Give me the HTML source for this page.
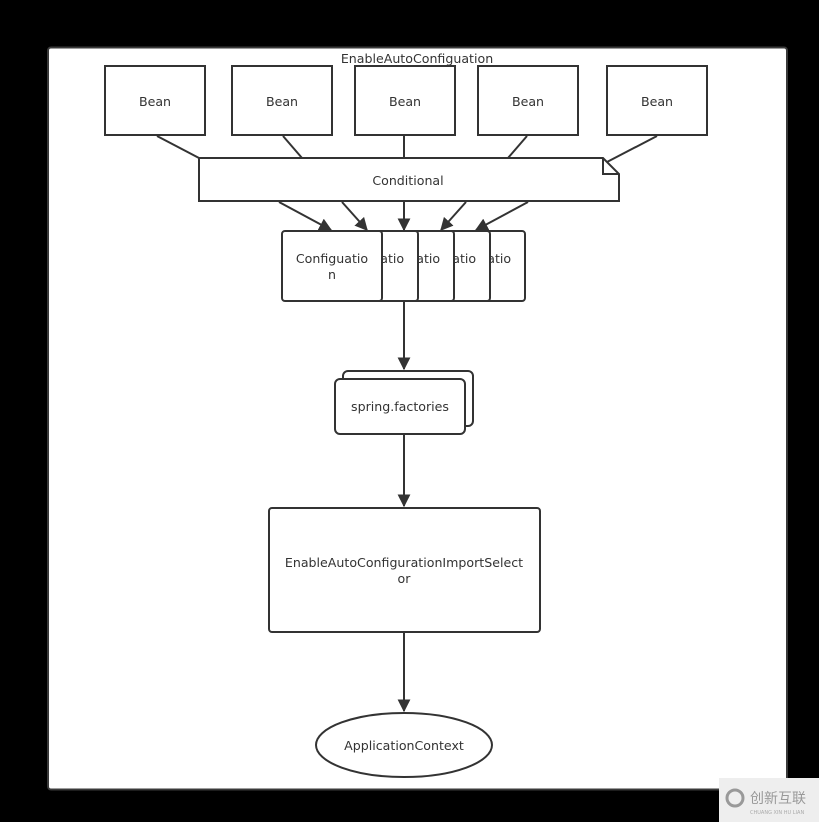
<!DOCTYPE html>
<html><head><meta charset="utf-8"><style>
html,body{margin:0;padding:0;background:#000;width:819px;height:822px;overflow:hidden}
svg{display:block}
text{font-family:"DejaVu Sans","Liberation Sans",sans-serif;font-size:12.6px;fill:#333}
</style></head><body>
<svg width="819" height="822" viewBox="0 0 819 822" xmlns="http://www.w3.org/2000/svg">
<defs><marker id="a" viewBox="0 0 10 10" refX="9" refY="5" markerWidth="6.5" markerHeight="6.5" orient="auto"><path d="M0,0 L10,5 L0,10 z" fill="#333"/></marker></defs>
<rect x="48" y="47.5" width="739" height="742" rx="3" fill="#fff" stroke="#3a3a3a" stroke-width="2"/>
<text x="417" y="63" text-anchor="middle">EnableAutoConfiguation</text>
<g fill="#fff" stroke="#333" stroke-width="2">
<rect x="105" y="66" width="100" height="69"/>
<rect x="232" y="66" width="100" height="69"/>
<rect x="355" y="66" width="100" height="69"/>
<rect x="478" y="66" width="100" height="69"/>
<rect x="607" y="66" width="100" height="69"/>
</g>
<g text-anchor="middle"><text x="155" y="106">Bean</text><text x="282" y="106">Bean</text><text x="405" y="106">Bean</text><text x="528" y="106">Bean</text><text x="657" y="106">Bean</text></g>
<g stroke="#333" stroke-width="2">
<line x1="157" y1="136" x2="199" y2="158"/><line x1="283" y1="136" x2="302" y2="158"/><line x1="404" y1="136" x2="404" y2="158"/><line x1="527" y1="136" x2="508" y2="158"/><line x1="657" y1="136" x2="607" y2="162"/>
</g>
<path d="M199,158 H603 L619,174 V201 H199 Z" fill="#fff" stroke="#333" stroke-width="2"/>
<path d="M603,158 V174 H619" fill="none" stroke="#333" stroke-width="2"/>
<text x="408" y="185" text-anchor="middle">Conditional</text>
<g stroke="#333" stroke-width="2" marker-end="url(#a)">
<line x1="279" y1="202" x2="331" y2="230"/><line x1="342" y1="202" x2="367" y2="230"/><line x1="404" y1="202" x2="404" y2="230"/><line x1="466" y1="202" x2="441" y2="230"/><line x1="528" y1="202" x2="476" y2="230"/>
</g>
<g fill="#fff" stroke="#333" stroke-width="2">
<rect x="425" y="231" width="100" height="70" rx="3"/>
<rect x="390" y="231" width="100" height="70" rx="3"/>
<rect x="354" y="231" width="100" height="70" rx="3"/>
<rect x="318" y="231" width="100" height="70" rx="3"/>
</g>
<clipPath id="c1"><rect x="491" y="231" width="34" height="70"/></clipPath>
<clipPath id="c2"><rect x="455" y="231" width="35" height="70"/></clipPath>
<clipPath id="c3"><rect x="419" y="231" width="35" height="70"/></clipPath>
<clipPath id="c4"><rect x="383" y="231" width="35" height="70"/></clipPath>
<text x="475" y="263" text-anchor="middle" clip-path="url(#c1)">Configuatio</text>
<text x="440" y="263" text-anchor="middle" clip-path="url(#c2)">Configuatio</text>
<text x="404" y="263" text-anchor="middle" clip-path="url(#c3)">Configuatio</text>
<text x="368" y="263" text-anchor="middle" clip-path="url(#c4)">Configuatio</text>
<rect x="282" y="231" width="100" height="70" rx="3" fill="#fff" stroke="#333" stroke-width="2"/>
<text x="332" y="263" text-anchor="middle">Configuatio</text>
<text x="332" y="279" text-anchor="middle">n</text>
<g stroke="#333" stroke-width="2" marker-end="url(#a)">
<line x1="404" y1="302" x2="404" y2="369"/>
<line x1="404" y1="435" x2="404" y2="506"/>
<line x1="404" y1="633" x2="404" y2="711"/>
</g>
<rect x="343" y="371" width="130" height="55" rx="5" fill="#fff" stroke="#333" stroke-width="2"/>
<rect x="335" y="379" width="130" height="55" rx="5" fill="#fff" stroke="#333" stroke-width="2"/>
<text x="400" y="411" text-anchor="middle">spring.factories</text>
<rect x="269" y="508" width="271" height="124" rx="3" fill="#fff" stroke="#333" stroke-width="2"/>
<text x="404" y="567" text-anchor="middle">EnableAutoConfigurationImportSelect</text>
<text x="404" y="583" text-anchor="middle">or</text>
<ellipse cx="404" cy="745" rx="88" ry="32" fill="#fff" stroke="#333" stroke-width="2"/>
<text x="404" y="750" text-anchor="middle">ApplicationContext</text>
<rect x="719" y="778" width="100" height="44" fill="#eeeeee"/>
<circle cx="735" cy="798" r="8" fill="none" stroke="#999" stroke-width="3"/>
<text x="750" y="803" style="font-family:'Noto Sans CJK SC',sans-serif;font-size:14px;fill:#999">创新互联</text>
<text x="750" y="814" style="font-size:5px;fill:#aaa">CHUANG XIN HU LIAN</text>
</svg>
</body></html>
